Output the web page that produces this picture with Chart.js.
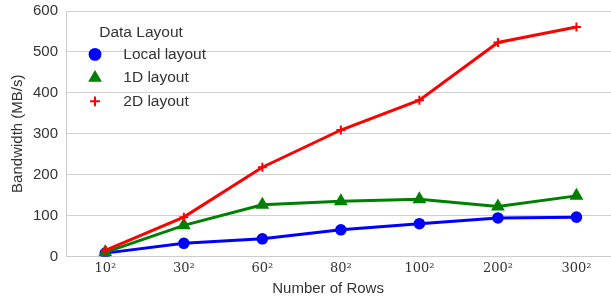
<!DOCTYPE html>
<html>
<head>
<meta charset="utf-8">
<script src="https://cdn.jsdelivr.net/npm/chart.js@4"></script>
<style>
  html, body { margin: 0; padding: 0; background: #fff; }
  #wrap { width: 611px; height: 302px; }
</style>
</head>
<body>
<div id="wrap"><canvas id="chart"></canvas></div>
<script>
const rowLabels = ['10²', '30²', '60²', '80²', '100²', '200²', '300²'];
const localLayout = [8, 32, 43, 65, 80, 94, 96];
const layout1D = [10, 76, 126, 135, 140, 122, 148];
const layout2D = [15, 96, 218, 309, 382, 523, 561];
const yTicks = [0, 100, 200, 300, 400, 500, 600];

const toPoints = arr => arr.map((v, i) => ({ x: i, y: v }));
const sans = 'Liberation Sans, Arial, sans-serif';
const textColor = '#333333';
const gap = '\u2002\u2002';

// nudge the in-plot legend to the right, like the original
const legendShift = {
  id: 'legendShift',
  afterLayout(chart) {
    if (chart.legend) {
      chart.legend.left += 16;
      chart.legend.right += 16;
    }
  }
};

const ctx = document.getElementById('chart');
new Chart(ctx, {
  type: 'line',
  data: {
    datasets: [
      {
        label: gap + 'Local layout',
        data: toPoints(localLayout),
        borderColor: '#0000ff',
        backgroundColor: '#0000ff',
        pointStyle: 'circle',
        pointRadius: 4.3,
        borderWidth: 3,
        order: 3
      },
      {
        label: gap + '1D layout',
        data: toPoints(layout1D),
        borderColor: '#008000',
        backgroundColor: '#008000',
        pointStyle: 'triangle',
        pointRadius: 5,
        borderWidth: 3,
        order: 2
      },
      {
        label: gap + '2D layout',
        data: toPoints(layout2D),
        borderColor: '#ff0000',
        backgroundColor: '#ff0000',
        pointStyle: 'cross',
        pointRadius: 4.5,
        pointBorderWidth: 2,
        borderWidth: 3,
        order: 1
      }
    ]
  },
  plugins: [legendShift],
  options: {
    responsive: true,
    maintainAspectRatio: false,
    animation: false,
    layout: { autoPadding: false, padding: { left: 4, top: 11, right: 0, bottom: 4 } },
    plugins: {
      tooltip: { enabled: false },
      legend: {
        position: 'chartArea',
        align: 'start',
        title: {
          display: true,
          position: 'start',
          text: '    Data Layout',
          color: textColor,
          font: { family: sans, size: 15.5 },
          padding: { top: 25, bottom: -5 }
        },
        labels: {
          usePointStyle: true,
          boxWidth: 10,
          boxHeight: 7,
          padding: 8,
          color: textColor,
          font: { family: sans, size: 15.5 },
          sort: (a, b) => a.datasetIndex - b.datasetIndex
        }
      }
    },
    scales: {
      x: {
        type: 'linear',
        min: -0.5,
        max: 6.44,
        afterBuildTicks: axis => { axis.ticks = rowLabels.map((_, i) => ({ value: i })); },
        afterFit: axis => { axis.paddingRight = 0; axis.paddingLeft = 0; },
        grid: { display: false, drawTicks: false },
        border: { display: true, color: '#cccccc', width: 1 },
        ticks: {
          callback: v => rowLabels[v],
          color: textColor,
          padding: 4,
          font: { family: 'DejaVu Serif', size: 13 }
        },
        title: {
          display: true,
          text: 'Number of Rows\u00a0\u00a0\u00a0\u00a0\u00a0',
          color: textColor,
          font: { family: sans, size: 15 },
          padding: { top: 0, bottom: 0 }
        }
      },
      y: {
        min: 0,
        max: 600,
        afterBuildTicks: axis => { axis.ticks = yTicks.map(v => ({ value: v })); },
        afterFit: axis => { axis.paddingTop = 0; axis.paddingBottom = 0; },
        grid: { color: '#d0d0d0', lineWidth: 1, drawTicks: false },
        border: { display: true, color: '#cccccc', width: 1 },
        ticks: {
          color: textColor,
          padding: 8,
          font: { family: sans, size: 15 }
        },
        title: {
          display: true,
          text: 'Bandwidth (MB/s)',
          color: textColor,
          font: { family: sans, size: 15 },
          padding: { top: 5, bottom: -2 }
        }
      }
    }
  }
});
</script>
</body>
</html>
